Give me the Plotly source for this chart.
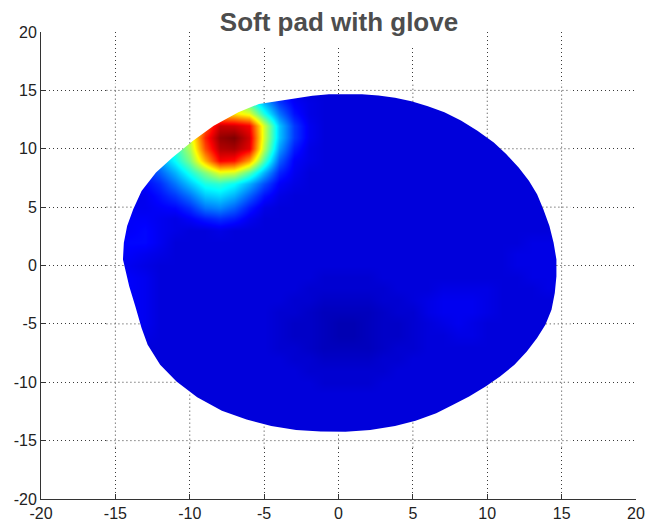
import plotly.graph_objects as go

# ---------------- data ----------------
x_centers = list(range(-15, 16))          # grid columns (x)
y_centers = list(range(15, -16, -1))      # grid rows, top to bottom (y)

# pressure level (0..100 on the jet scale), rows from y=15 (top) to y=-15 (bottom)
z_rows = [
    [9,9,9,9,20,30,38,42,40,32,22,14,10,9,9,9,9,9,9,9,9,9,9,9,9,9,9,9,9,9,9],
    [9,9,14,22,32,45,55,60,57,45,30,18,12,10,9,9,9,9,9,9,9,9,9,9,9,9,9,9,9,9,9],
    [10,14,22,30,42,52,62,68,65,60,40,24,14,10,9,9,9,9,9,9,9,9,9,9,9,9,9,9,9,9,9],
    [12,18,26,36,46,56,78,93,92,88,58,32,18,11,9,9,9,9,9,9,9,9,9,9,9,9,9,9,9,9,9],
    [12,18,26,36,46,58,84,98,100,92,58,32,18,11,9,9,9,9,9,9,9,9,9,9,9,9,9,9,9,9,9],
    [12,17,24,33,42,55,80,95,96,90,55,28,15,10,9,9,9,9,9,9,9,9,9,9,9,9,9,9,9,9,9],
    [11,15,20,28,38,50,70,88,86,72,45,22,12,10,9,9,9,9,9,9,9,9,9,9,9,9,9,9,9,9,9],
    [10,13,16,22,30,40,50,60,58,46,30,16,11,9,9,9,9,9,9,9,9,9,9,9,9,9,9,9,9,9,9],
    [10,11,13,17,24,32,40,42,38,30,20,12,10,9,9,9,9,9,9,9,9,9,9,9,9,9,9,9,9,9,9],
    [10,10,11,14,18,24,32,34,30,22,14,10,9,9,9,9,9,9,9,9,9,9,9,9,9,9,9,9,9,9,9],
    [11,11,11,12,13,17,24,26,22,15,10,9,9,9,9,9,9,9,9,9,9,9,9,9,9,9,9,9,9,9,9],
    [12,12,12,11,10,12,15,17,15,11,9,9,9,9,9,9,9,9,9,9,9,9,9,9,9,9,9,9,9,9,9],
    [12,12,13,11,10,9,9,10,9,9,9,9,9,9,9,9,9,9,9,9,9,9,9,9,9,9,9,9,9,9,9],
    [12,13,13,11,9,9,9,9,9,9,9,9,9,9,9,9,9,9,9,9,9,9,9,9,9,9,9,9,10,10,10],
    [11,12,11,10,9,9,9,9,9,9,9,9,9,9,9,9,9,9,9,9,9,9,9,9,9,9,9,10,10,10,10],
    [11,11,10,9,9,9,9,9,9,9,9,9,9,9,9,9,9,9,9,9,9,9,9,9,9,9,9,10,10,10,10],
    [12,12,11,9,9,9,9,9,9,9,9,9,9,9,8,8,8,8,9,9,9,9,9,9,9,9,9,9,10,10,10],
    [12,12,11,9,9,9,9,9,9,9,9,9,9,8,8,8,8,8,8,9,9,9,10,10,10,10,9,9,9,10,10],
    [12,12,11,9,9,9,9,9,9,9,9,9,8,8,7,7,7,7,8,8,9,10,11,11,11,10,9,9,9,9,9],
    [12,12,11,9,9,9,9,9,9,9,9,8,8,7,6,6,6,6,7,8,8,10,11,11,11,10,9,9,9,9,9],
    [12,12,11,9,9,9,9,9,9,9,9,8,7,7,6,5,5,6,7,7,8,9,10,11,10,9,9,9,9,9,9],
    [10,10,10,9,9,9,9,9,9,9,9,8,7,7,6,5,5,6,7,7,8,9,9,10,10,9,9,9,9,9,9],
    [9,9,9,9,9,9,9,9,9,9,9,8,8,7,6,6,6,6,7,8,8,9,9,9,9,9,9,9,9,9,9],
    [9,9,9,9,9,9,9,9,9,9,9,9,8,8,7,7,7,7,8,8,9,9,9,9,9,9,9,9,9,9,9],
    [9,9,9,9,9,9,9,9,9,9,9,9,9,8,8,8,8,8,8,9,9,9,9,9,9,9,9,9,9,9,9],
    [9,9,9,9,9,9,9,9,9,9,9,9,9,9,8,8,8,8,9,9,9,9,9,9,9,9,9,9,9,9,9],
    [9,9,9,9,9,9,9,9,9,9,9,9,9,9,9,9,9,9,9,9,9,9,9,9,9,9,9,9,9,9,9],
    [9,9,9,9,9,9,9,9,9,9,9,9,9,9,9,9,9,9,9,9,9,9,9,9,9,9,9,9,9,9,9],
    [9,9,9,9,9,9,9,9,9,9,9,9,9,9,9,9,9,9,9,9,9,9,9,9,9,9,9,9,9,9,9],
    [9,9,9,9,9,9,9,9,9,9,9,9,9,9,9,9,9,9,9,9,9,9,9,9,9,9,9,9,9,9,9],
    [9,9,9,9,9,9,9,9,9,9,9,9,9,9,9,9,9,9,9,9,9,9,9,9,9,9,9,9,9,9,9],
]

# outline of the pad (clockwise, starting at the left-most point)
outline_x = [-14.49, -14.43, -14.21, -13.80, -13.24, -12.27, -11.16, -9.78, -8.39, -6.73,
             -5.35, -3.96, -2.85, -1.75, -0.64, 0.47, 1.58, 2.69, 3.80, 4.90,
             6.01, 7.12, 8.23, 9.34, 10.44, 11.27, 12.11, 12.80, 13.35, 13.77,
             14.18, 14.46, 14.65, 14.65, 14.54, 14.32, 13.91, 13.35, 12.66, 11.83,
             10.86, 9.89, 8.78, 7.67, 6.57, 5.18, 3.80, 2.13, 0.47, -1.19,
             -2.85, -4.52, -6.18, -7.84, -9.50, -10.89, -11.99, -12.83, -13.24, -13.66,
             -14.07]
outline_y = [0.52, 1.95, 3.38, 4.81, 6.39, 7.97, 9.26, 10.69, 11.98, 13.12,
             13.84, 14.10, 14.33, 14.53, 14.67, 14.70, 14.67, 14.56, 14.36, 14.07,
             13.64, 13.12, 12.41, 11.55, 10.54, 9.54, 8.40, 7.25, 6.10, 4.81,
             3.38, 1.95, 0.52, -0.92, -2.35, -3.78, -5.07, -6.22, -7.36, -8.51,
             -9.51, -10.37, -11.23, -11.95, -12.66, -13.30, -13.75, -14.10, -14.24, -14.21,
             -14.10, -13.75, -13.18, -12.44, -11.29, -9.94, -8.51, -6.79, -5.36, -3.50,
             -1.78]

tick_vals = [-20, -15, -10, -5, 0, 5, 10, 15, 20]
axis_range = [-20, 20]
title_text = "Soft pad with glove"

jet = [[0.0, "rgb(0,0,128)"], [0.125, "rgb(0,0,255)"], [0.375, "rgb(0,255,255)"],
       [0.625, "rgb(255,255,0)"], [0.875, "rgb(255,0,0)"], [1.0, "rgb(128,0,0)"]]

GRID_COLOR = "#3a3a3a"
GRID_DASH = "1px,3px"

fig = go.Figure()

# surface seen from above (interpolated shading)
fig.add_trace(go.Heatmap(
    x=x_centers, y=y_centers[::-1], z=z_rows[::-1],
    zmin=0, zmax=100, colorscale=jet, zsmooth="best",
    showscale=False, hoverinfo="skip"))

# white mask: heatmap extent minus the pad outline (keyhole polygon)
hx = 0.5 * (x_centers[1] - x_centers[0])
xlo, xhi = min(x_centers) - hx - 0.1, max(x_centers) + hx + 0.1
ylo, yhi = min(y_centers) - hx - 0.1, max(y_centers) + hx + 0.1
y0 = outline_y[0]
mask_x = [xlo, xlo, xhi, xhi, xlo, xlo] + outline_x + [outline_x[0], xlo]
mask_y = [y0, ylo, ylo, yhi, yhi, y0] + outline_y + [outline_y[0], y0]
fig.add_trace(go.Scatter(x=mask_x, y=mask_y, mode="lines", fill="toself",
                         fillcolor="white", line=dict(width=0, color="white"),
                         hoverinfo="skip", showlegend=False))

# gridline pieces inside the masked box but outside the pad
def crossings(v, horizontal):
    out = []
    n = len(outline_x)
    for i in range(n):
        ax_, ay_ = outline_x[i], outline_y[i]
        bx_, by_ = outline_x[(i + 1) % n], outline_y[(i + 1) % n]
        a, b = (ay_, by_) if horizontal else (ax_, bx_)
        pa, pb = (ax_, bx_) if horizontal else (ay_, by_)
        if (a - v) * (b - v) < 0 or (a == v and b != v):
            t = (v - a) / (b - a)
            out.append(pa + t * (pb - pa))
    return out

gx, gy = [], []
for v in tick_vals:
    if ylo < v < yhi:
        c = crossings(v, True)
        segs = [(xlo, min(c)), (max(c), xhi)] if c else [(xlo, xhi)]
        for s0, s1 in segs:
            gx += [s0, s1, None]
            gy += [v, v, None]
    if xlo < v < xhi:
        c = crossings(v, False)
        segs = [(ylo, min(c)), (max(c), yhi)] if c else [(ylo, yhi)]
        for s0, s1 in segs:
            gx += [v, v, None]
            gy += [s0, s1, None]
fig.add_trace(go.Scatter(x=gx, y=gy, mode="lines",
                         line=dict(color=GRID_COLOR, width=1, dash=GRID_DASH),
                         hoverinfo="skip", showlegend=False))

axis_common = dict(
    range=axis_range, tickvals=tick_vals, ticktext=[str(t) for t in tick_vals],
    showgrid=True, gridcolor=GRID_COLOR, griddash=GRID_DASH, gridwidth=1,
    zeroline=False, showline=True, linecolor="#333333", linewidth=1, mirror=False,
    ticks="inside", ticklen=5, tickcolor="#333333", automargin=False,
    tickfont=dict(family="Liberation Sans, Arial, sans-serif", size=16, color="#222222"),
    fixedrange=True,
)
fig.update_xaxes(**axis_common)
fig.update_yaxes(**axis_common)

fig.add_annotation(
    text="<b>" + title_text + "</b>", xref="paper", yref="paper",
    x=0.5, y=1.0214, xanchor="center", yanchor="middle", showarrow=False,
    font=dict(family="Liberation Sans, Arial, sans-serif", size=26, color="#4d4d4d"),
    bgcolor="white", width=292, height=48, borderpad=0)

fig.update_layout(
    width=645, height=528, autosize=False,
    margin=dict(l=41, r=9, t=32, b=29),
    plot_bgcolor="white", paper_bgcolor="white",
    showlegend=False,
)

fig.write_html(
    "out.html",
    config={"displayModeBar": False},
    post_script="document.body.style.margin='0px';document.body.style.overflow='hidden';",
)
